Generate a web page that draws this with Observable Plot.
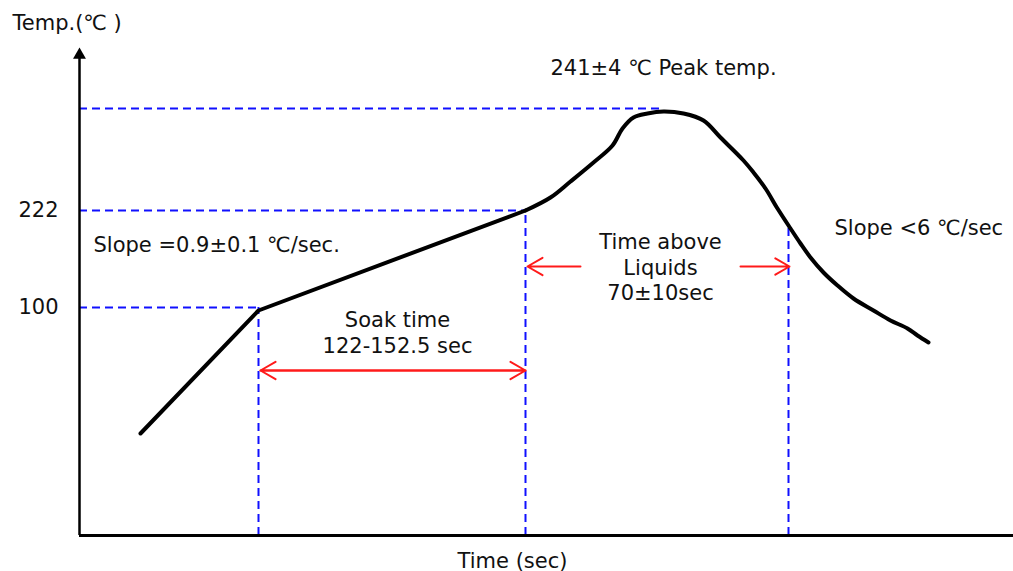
<!DOCTYPE html>
<html><head><meta charset="utf-8">
<script src="https://cdn.jsdelivr.net/npm/d3@7"></script>
<script src="https://cdn.jsdelivr.net/npm/@observablehq/plot@0.6"></script>
<style>body{margin:0;background:#fff}</style>
</head><body><div id="chart"></div>
<script>
// Schematic reflow profile: time and height are in schematic (not-to-scale) units.
const profileTime = [61,179,446,471,491,514,533,543,554,568,584,604,624,641,664,674,686,698,711,721,731,744,758,774,794,811,828,838,849];
const profileHeight = [102,225,325,338,354,373,390,407,418,422,424,422,415,398,375,363,347,327,307,292,278,263,250,237,225,215,207,200,193];

// temperature tick labels and their schematic heights
const yTickLabels = ["100", "222"];
const yTickHeight = [228, 325];

// horizontal guides: soak start (100), liquidus start (222), peak (241)
const guideTime = [179, 446, 584];
const guideHeight = [228, 325, 427];
// vertical guides down to the time axis
const vGuideTime = [179, 446, 709];
const vGuideHeight = [228, 325, 312];

// red arrows
const arrowFrom = [181, 446, 501, 661];
const arrowTo   = [446, 181, 448, 710];
const arrowHeight = [165, 165, 269, 269];

// annotations
const labelText = ["241\u00b14 \u2103 Peak temp.", "Slope =0.9\u00b10.1 \u2103/sec.", "Slope <6 \u2103/sec", "Time above\nLiquids\n70\u00b110sec", "Soak time\n122-152.5 sec", "Time (sec)", "Temp.(\u2103 )"];
const labelTime = [584, 14, 755, 581, 318, 433, -67];
const labelHeight = [469, 292, 309, 269, 203.5, -24, 514];
const labelAnchor = ["middle", "start", "start", "middle", "middle", "middle", "start"];

const profile = profileTime.map((t, i) => ({t, h: profileHeight[i], i}));
const hGuides = guideTime.map((t, i) => ({t, h: guideHeight[i]}));
const vGuides = vGuideTime.map((t, i) => ({t, h: vGuideHeight[i]}));
const arrows = arrowFrom.map((a, i) => ({x1: a, x2: arrowTo[i], h: arrowHeight[i]}));
const labels = labelText.map((s, i) => ({s, t: labelTime[i], h: labelHeight[i], anchor: labelAnchor[i]}));

const blue = "#1010ff", red = "#ff1a1a", ink = "#111";
const fs = 21;
const lineStyle = {x: "t", y: "h", stroke: "#000", strokeWidth: 4, strokeLinecap: "round", strokeLinejoin: "round"};

const chart = Plot.plot({
  width: 1013, height: 571,
  marginLeft: 79, marginRight: 0, marginTop: 0, marginBottom: 36,
  style: {fontFamily: "DejaVu Sans", fontSize: fs + "px", color: ink, background: "#fff", overflow: "visible"},
  x: {domain: [0, 934], range: [79, 1013], axis: null},
  y: {domain: [0, 535], range: [535, 0], axis: null},
  marks: [
    Plot.ruleY(hGuides, {y: "h", x1: 0, x2: "t", stroke: blue, strokeWidth: 2, strokeDasharray: "8,5"}),
    Plot.ruleX(vGuides, {x: "t", y1: 0, y2: "h", stroke: blue, strokeWidth: 2, strokeDasharray: "8,5"}),
    Plot.arrow(arrows, {x1: "x1", x2: "x2", y1: "h", y2: "h", stroke: red, strokeWidth: 2, headLength: 13, headAngle: 60}),
    Plot.line(profile.filter(d => d.i <= 2), {...lineStyle, curve: "linear"}),
    Plot.line(profile.filter(d => d.i >= 2), {...lineStyle, curve: "catmull-rom"}),
    Plot.ruleY([0], {x1: 0, x2: 934, stroke: "#000", strokeWidth: 3}),
    Plot.ruleX([0], {y1: 0, y2: 477, stroke: "#000", strokeWidth: 2.5}),
    Plot.dot([0], {x: 0, y: 480.5, symbol: "triangle", r: 4.8, fill: "#000", stroke: null}),
    Plot.axisY({ticks: yTickHeight, tickSize: 0, tickPadding: 21, fontSize: fs, label: null,
      tickFormat: d => yTickLabels[yTickHeight.indexOf(d)]}),
    Plot.text(labels.filter(d => d.anchor === "start"), {x: "t", y: "h", text: "s", textAnchor: "start", fontSize: fs, fill: ink, lineHeight: 1.21}),
    Plot.text(labels.filter(d => d.anchor === "middle"), {x: "t", y: "h", text: "s", textAnchor: "middle", fontSize: fs, fill: ink, lineHeight: 1.21})
  ]
});
document.getElementById("chart").append(chart);
</script>
</body></html>
